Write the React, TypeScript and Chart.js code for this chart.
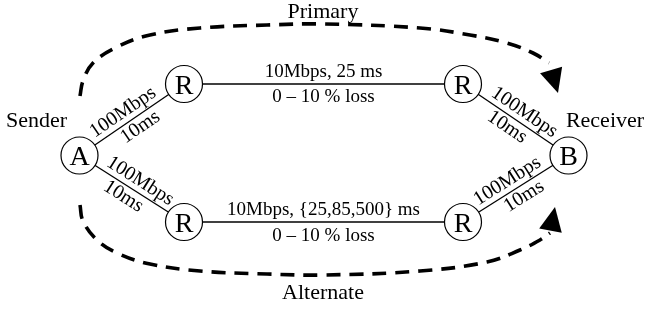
import React, { useEffect, useRef } from "react";
import { Chart, registerables } from "chart.js";
Chart.register(...registerables);

const W = 647;
const H = 309;
const FONT = '"Liberation Serif", "Times New Roman", serif';

// Nodes
const nodeNames = ["A", "R", "R", "R", "R", "B"];
const nodeX = [79.5, 184, 463, 184, 463, 568.5];
const nodeY = [155.5, 84, 84, 222, 222, 155.5];

// Links (node index pairs)
const linkFrom = [0, 1, 2, 0, 3, 4];
const linkTo = [1, 2, 5, 3, 4, 5];

// Labels on the horizontal links
const hLink = [1, 1, 4, 4];
const hText = ["10Mbps, 25 ms", "0 \u2013 10 % loss", "10Mbps, {25,85,500} ms", "0 \u2013 10 % loss"];
const hDy = [-7, 18, -7, 19];

// Labels on diagonal links
const dLink = [0, 0, 2, 2, 3, 3, 5, 5];
const dText = ["100Mbps", "10ms", "100Mbps", "10ms", "100Mbps", "10ms", "100Mbps", "10ms"];
const dPerp = [11, -11, 11, -11, 11, -11, 11, -11];
const dAlong = [-3, 3, 3, -3, 3, -3, -3, 3];

// Path curves
const primaryX = [80, 83, 93, 117, 150, 200, 267, 323, 420, 470, 507, 533, 549];
const primaryY = [96, 81, 63, 47, 35, 28, 25, 24, 28, 35, 43, 53, 63];
const primaryTip = [558, 93];
const alternateX = [80, 83, 97, 117, 150, 200, 267, 323, 420, 487, 520, 540, 550];
const alternateY = [205, 221, 240, 253, 264, 271, 274, 275, 271, 262, 250, 240, 233];
const alternateTip = [555, 207];

// Free texts
const freeText = ["Primary", "Alternate", "Sender", "Receiver"];
const freeX = [323, 323, 36.5, 605];
const freeY = [18, 299, 126.5, 127];

const pts = (xs: number[], ys: number[]) => xs.map((x, i) => ({ x, y: ys[i] }));

export default function App() {
  const ref = useRef<HTMLCanvasElement | null>(null);
  useEffect(() => {
    document.body.style.margin = "0";
    const canvas = ref.current!;
    const linkSets = linkFrom.map((f, i) => ({
      type: "line" as const,
      data: [
        { x: nodeX[f], y: nodeY[f] },
        { x: nodeX[linkTo[i]], y: nodeY[linkTo[i]] },
      ],
      borderColor: "#000",
      borderWidth: 1.3,
      pointRadius: 0,
      showLine: true,
      tension: 0,
      order: 1,
    }));
    const curve = (xs: number[], ys: number[]) => ({
      type: "line" as const,
      data: pts(xs, ys),
      borderColor: "#000",
      borderWidth: 3.6,
      borderDash: [14, 9],
      pointRadius: 0,
      showLine: true,
      tension: 0.4,
      order: 2,
    });
    const arrows = [
      { xs: primaryX, ys: primaryY, tip: primaryTip },
      { xs: alternateX, ys: alternateY, tip: alternateTip },
    ];
    const textPlugin = {
      id: "texts",
      afterDatasetsDraw(chart: any) {
        const ctx = chart.ctx as CanvasRenderingContext2D;
        const sx = chart.scales.x;
        const sy = chart.scales.y;
        const px = (v: number) => sx.getPixelForValue(v);
        const py = (v: number) => sy.getPixelForValue(v);
        ctx.save();
        ctx.fillStyle = "#000";
        // arrowheads
        arrows.forEach((a) => {
          const n = a.xs.length;
          const bx = px(a.xs[n - 1]);
          const by = py(a.ys[n - 1]);
          const tx = px(a.tip[0]);
          const ty = py(a.tip[1]);
          let dx = tx - bx;
          let dy = ty - by;
          const len = Math.hypot(dx, dy);
          dx /= len;
          dy /= len;
          const L = 24;
          const hw = 11.5;
          const cx = tx - dx * L;
          const cy = ty - dy * L;
          ctx.beginPath();
          ctx.moveTo(tx, ty);
          ctx.lineTo(cx - dy * hw, cy + dx * hw);
          ctx.lineTo(cx + dy * hw, cy - dx * hw);
          ctx.closePath();
          ctx.fill();
        });
        // node letters
        ctx.font = `28px ${FONT}`;
        ctx.textAlign = "center";
        ctx.textBaseline = "alphabetic";
        nodeNames.forEach((t, i) => {
          ctx.fillText(t, px(nodeX[i]), py(nodeY[i]) + 9.5);
        });
        // horizontal link labels
        ctx.font = `19px ${FONT}`;
        hText.forEach((t, i) => {
          const l = hLink[i];
          const mx = (px(nodeX[linkFrom[l]]) + px(nodeX[linkTo[l]])) / 2;
          const my = (py(nodeY[linkFrom[l]]) + py(nodeY[linkTo[l]])) / 2;
          ctx.fillText(t, mx, my + hDy[i]);
        });
        // diagonal labels
        ctx.font = `20px ${FONT}`;
        ctx.textBaseline = "middle";
        dText.forEach((t, i) => {
          const l = dLink[i];
          const x1 = px(nodeX[linkFrom[l]]);
          const y1 = py(nodeY[linkFrom[l]]);
          const x2 = px(nodeX[linkTo[l]]);
          const y2 = py(nodeY[linkTo[l]]);
          let dx = x2 - x1;
          let dy = y2 - y1;
          const len = Math.hypot(dx, dy);
          dx /= len;
          dy /= len;
          const nx = dy;
          const ny = -dx;
          const mx = (x1 + x2) / 2 + dx * dAlong[i] + nx * dPerp[i];
          const my = (y1 + y2) / 2 + dy * dAlong[i] + ny * dPerp[i];
          ctx.save();
          ctx.translate(mx, my);
          ctx.rotate(Math.atan2(dy, dx));
          ctx.fillText(t, 0, 0);
          ctx.restore();
        });
        // free texts
        ctx.font = `22px ${FONT}`;
        ctx.textBaseline = "alphabetic";
        freeText.forEach((t, i) => {
          ctx.fillText(t, px(freeX[i]), py(freeY[i]));
        });
        ctx.restore();
      },
    };
    const chart = new Chart(canvas, {
      type: "scatter",
      data: {
        datasets: [
          {
            data: pts(nodeX, nodeY),
            pointRadius: 18.5,
            pointStyle: "circle",
            pointBackgroundColor: "#fff",
            pointBorderColor: "#000",
            pointBorderWidth: 1.2,
            showLine: false,
            order: 0,
          } as any,
          ...linkSets,
          curve(primaryX, primaryY),
          curve(alternateX, alternateY),
        ],
      },
      options: {
        animation: false,
        responsive: false,
        devicePixelRatio: 1,
        events: [],
        layout: { padding: 0, autoPadding: false },
        scales: {
          x: { type: "linear", min: 0, max: W, display: false },
          y: { type: "linear", min: 0, max: H, reverse: true, display: false },
        },
        plugins: { legend: { display: false }, tooltip: { enabled: false } },
      },
      plugins: [textPlugin],
    } as any);
    return () => chart.destroy();
  }, []);
  return (
    <div style={{ width: W, height: H, background: "#fff" }}>
      <canvas ref={ref} width={W} height={H} style={{ display: "block" }} />
    </div>
  );
}
